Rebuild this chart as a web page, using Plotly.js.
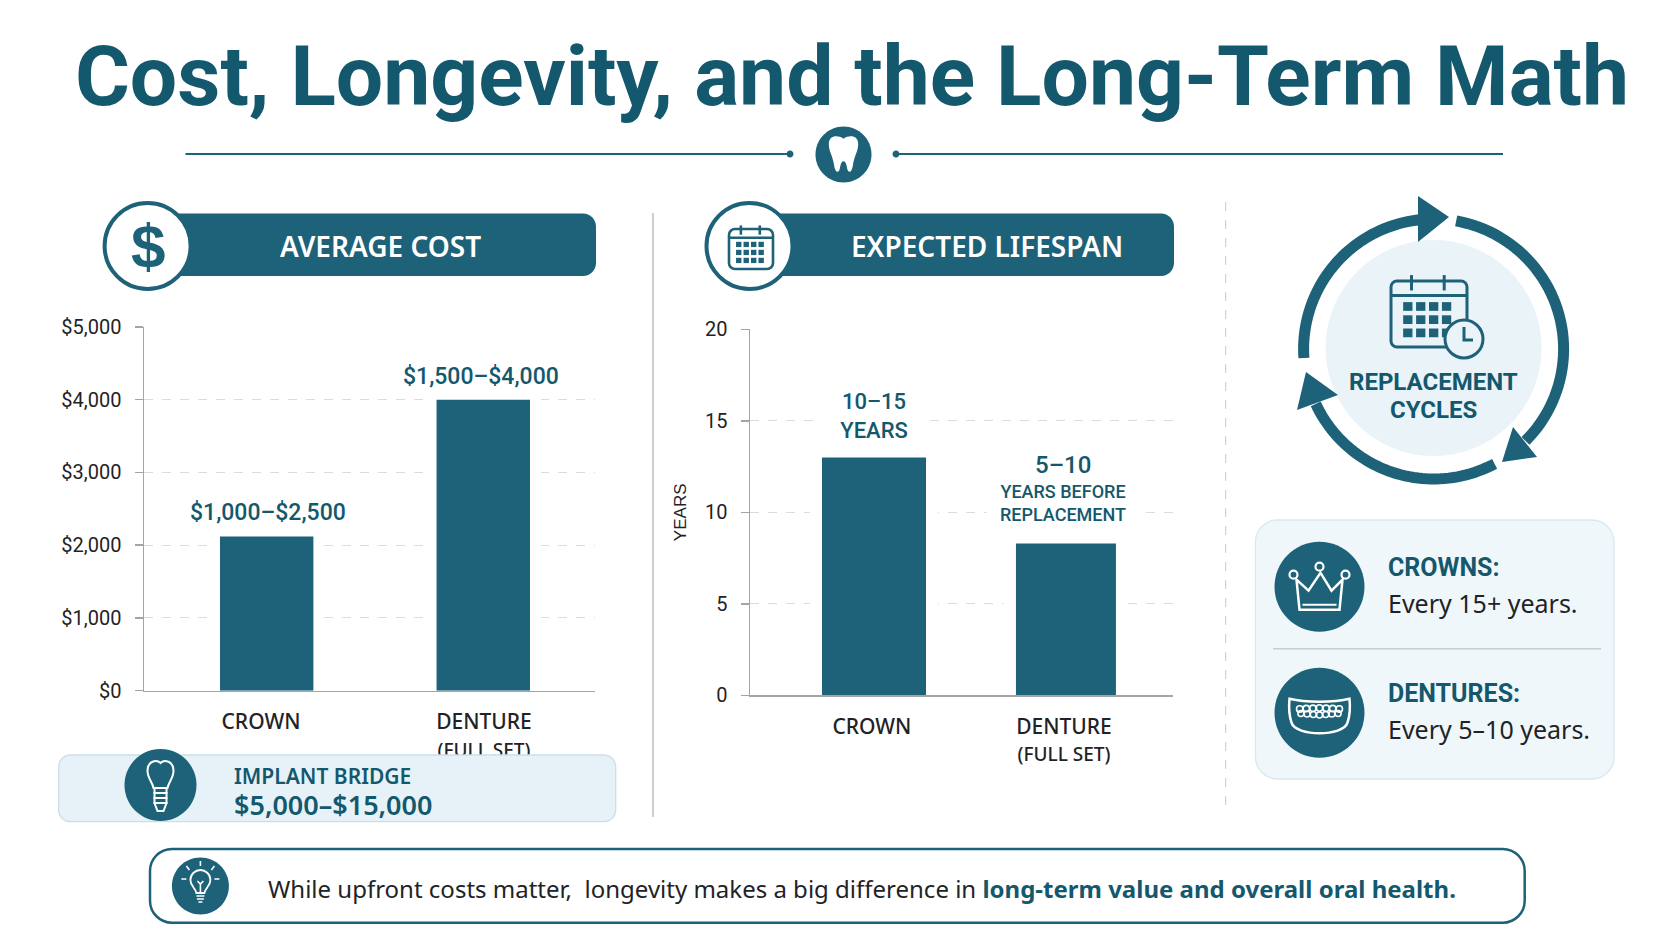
<!DOCTYPE html>
<html><head><meta charset="utf-8">
<script src="https://cdn.plot.ly/plotly-3.0.1.min.js"></script>
<style>html,body{margin:0;padding:0;background:#fff}#c{width:1672px;height:941px}</style>
</head><body><div id="c"></div>
<script>
// ---- chart data ----
const categories = ["CROWN", "DENTURE<br><span style=\"font-size:19px\">(FULL SET)</span>"];
const costValues = [2120, 4000];
const costLabels = ["$1,000–$2,500", "$1,500–$4,000"];
const costTickVals = [0, 1000, 2000, 3000, 4000, 5000];
const costTickText = ["$0", "$1,000", "$2,000", "$3,000", "$4,000", "$5,000"];
const lifeValues = [13, 8.3];
const lifeTickVals = [0, 5, 10, 15, 20];
const titleText = "Cost, Longevity, and the Long-Term Math";

// ---- style + helpers ----
const W = 1672, H = 941;
const TEAL = "#1d6278", DARK = "#14586d", INK = "#1f2326";
const TITLEFONT = "'Liberation Sans Narrow','Roboto',sans-serif";
const BODY = "'Noto Sans','Open Sans',sans-serif";
const shapes = [], notes = [];
function P(d, ox = 0, oy = 0, s = 1) {
  let i = 0;
  return d.replace(/-?\d+(\.\d+)?/g, m => {
    const v = parseFloat(m);
    const r = (i++ % 2 === 0) ? (ox + v * s) / W : 1 - (oy + v * s) / H;
    return r.toFixed(6);
  });
}
function path(d, o = {}, ox = 0, oy = 0, s = 1) {
  shapes.push({ type: "path", xref: "paper", yref: "paper", path: P(d, ox, oy, s),
    fillcolor: o.fill || "rgba(0,0,0,0)",
    line: { color: o.stroke || "rgba(0,0,0,0)", width: o.w === undefined ? 0 : o.w, dash: o.dash || "solid" } });
}
function circleD(cx, cy, r) {
  const k = 0.5523 * r;
  return `M ${cx - r} ${cy} C ${cx - r} ${cy - k} ${cx - k} ${cy - r} ${cx} ${cy - r} C ${cx + k} ${cy - r} ${cx + r} ${cy - k} ${cx + r} ${cy} C ${cx + r} ${cy + k} ${cx + k} ${cy + r} ${cx} ${cy + r} C ${cx - k} ${cy + r} ${cx - r} ${cy + k} ${cx - r} ${cy} Z`;
}
function circle(cx, cy, r, o) { path(circleD(cx, cy, r), o); }
function rrD(x0, y0, x1, y1, r) {
  const k = 0.4477 * r;
  return `M ${x0 + r} ${y0} L ${x1 - r} ${y0} C ${x1 - k} ${y0} ${x1} ${y0 + k} ${x1} ${y0 + r} L ${x1} ${y1 - r} C ${x1} ${y1 - k} ${x1 - k} ${y1} ${x1 - r} ${y1} L ${x0 + r} ${y1} C ${x0 + k} ${y1} ${x0} ${y1 - k} ${x0} ${y1 - r} L ${x0} ${y0 + r} C ${x0} ${y0 + k} ${x0 + k} ${y0} ${x0 + r} ${y0} Z`;
}
function rr(x0, y0, x1, y1, r, o) { path(rrD(x0, y0, x1, y1, r), o); }
function line(x0, y0, x1, y1, color, w, dash) { path(`M ${x0} ${y0} L ${x1} ${y1}`, { stroke: color, w, dash }); }
function note(text, x, y, size, color, o = {}) {
  notes.push(Object.assign({ text, xref: "paper", yref: "paper", x: x / W, y: 1 - y / H,
    xanchor: "center", yanchor: "middle", showarrow: false, align: "center",
    font: { family: o.family || BODY, size, color, weight: o.weight || 400 } }, o.extra || {}));
}
function arc(cx, cy, r, a0, a1, o) {
  let d = "";
  for (let i = 0; i <= 48; i++) {
    const a = (a0 + (a1 - a0) * i / 48) * Math.PI / 180;
    d += `${i ? "L" : "M"} ${(cx + r * Math.sin(a)).toFixed(2)} ${(cy - r * Math.cos(a)).toFixed(2)} `;
  }
  path(d, o);
}
function calendar(x0, y0, x1, y1, w, rows, cols) {
  rr(x0, y0, x1, y1, 6, { stroke: TEAL, w, fill: "#ffffff00" });
  const hh = (y1 - y0) * 0.22;
  line(x0, y0 + hh, x1, y0 + hh, TEAL, w);
  const ww = x1 - x0;
  [0.27, 0.7].forEach(f => line(x0 + ww * f, y0 - (y1 - y0) * 0.09, x0 + ww * f, y0 + hh * 0.65, TEAL, w));
  const gx = ww * 0.16, gw = (ww - 2 * gx) / cols, top = y0 + hh + (y1 - y0) * 0.1, gh = (y1 - top - (y1 - y0) * 0.08) / rows;
  for (let r = 0; r < rows; r++) for (let c = 0; c < cols; c++)
    path(`M ${x0 + gx + c * gw} ${top + r * gh} L ${x0 + gx + c * gw + gw * 0.72} ${top + r * gh} L ${x0 + gx + c * gw + gw * 0.72} ${top + r * gh + gh * 0.66} L ${x0 + gx + c * gw} ${top + r * gh + gh * 0.66} Z`, { fill: TEAL });
}

// ---- header ----
line(185.5, 154, 789, 154, TEAL, 2);
line(896, 154, 1503, 154, TEAL, 2);
circle(790, 154, 3.5, { fill: TEAL });
circle(896, 154, 3.5, { fill: TEAL });
circle(843.5, 154.5, 28, { fill: TEAL });
path("M -14 -10 C -14 -18 -6 -19 0 -15 C 6 -19 14 -18 14 -10 C 14 -3 10 2 9 10 C 8 18 4 19 3 11 C 2 5 -2 5 -3 11 C -4 19 -8 18 -9 10 C -10 2 -14 -3 -14 -10 Z", { fill: "#fff" }, 843.5, 154.5, 1.05);

// ---- section pills ----
rr(150, 213.5, 596, 276, 13, { fill: TEAL });
circle(147.6, 246, 43, { fill: "#fff", stroke: TEAL, w: 4 });
note("$", 148, 246, 62, TEAL, { weight: 700, family: "'Liberation Sans',sans-serif" });
note("AVERAGE COST", 380.6, 246, 28, "#fff", { weight: 600 });
rr(750, 213.5, 1174, 276, 13, { fill: TEAL });
circle(749.5, 246, 43, { fill: "#fff", stroke: TEAL, w: 4 });
calendar(729, 229, 773, 269, 2.6, 3, 4);
note("EXPECTED LIFESPAN", 987, 246, 28, "#fff", { weight: 600 });

// ---- vertical dividers ----
line(653, 213, 653, 817, "#bdbdbd", 1.5);
line(1225.7, 202, 1225.7, 814, "#c9c9c9", 1, "dash");

// ---- implant box ----
rr(58.6, 755, 615.7, 821.7, 12, { fill: "#e6f2f8", stroke: "#c9e0ea", w: 1.3 });
circle(160.5, 785, 36, { fill: TEAL });
path("M -13 -14 C -13 -24 -4 -26 0 -22 C 4 -26 13 -24 13 -14 C 13 -7 8 -3 7 3 L -7 3 C -8 -3 -13 -7 -13 -14 Z", { stroke: "#fff", w: 2 }, 160.5, 785);
path("M -6 3 L 6 3 L 6 18 L 3 26 L -3 26 L -6 18 Z", { stroke: "#fff", w: 2 }, 160.5, 785);
[8, 13, 18].forEach(d => line(153.5, 785 + d, 167.5, 785 + d, "#fff", 2));
note("IMPLANT BRIDGE", 232.4, 776, 21, DARK, { weight: 600, extra: { xanchor: "left" } });
note("$5,000–$15,000", 232.4, 804, 27, DARK, { weight: 600, extra: { xanchor: "left" } });

// ---- cycle ring ----
circle(1433.6, 348, 108, { fill: "#e9f3f8" });
const CX = 1433.6, CY = 349, R = 130;
arc(CX, CY, R, -94, -6, { stroke: TEAL, w: 11 });
arc(CX, CY, R, 10, 135, { stroke: TEAL, w: 11 });
arc(CX, CY, R, 152, 245, { stroke: TEAL, w: 11 });
path("M 1418 196 L 1449 217 L 1418 242 Z", { fill: TEAL });
path("M 1513 427 L 1537 457 L 1502 462 Z", { fill: TEAL });
path("M 1306 372 L 1297 410 L 1338 395 Z", { fill: TEAL });
calendar(1391, 281, 1467, 347, 3, 3, 4);
circle(1464, 339, 19, { fill: "#e9f3f8", stroke: TEAL, w: 3 });
path("M 1464 327 L 1464 340 L 1473 340", { stroke: TEAL, w: 3 });
note("REPLACEMENT", 1433.6, 382, 24, DARK, { weight: 700, family: "'Roboto',sans-serif" });
note("CYCLES", 1433.6, 410, 24, DARK, { weight: 700, family: "'Roboto',sans-serif" });

// ---- replacement card ----
rr(1255.5, 520, 1614, 779, 22, { fill: "#f0f7fb", stroke: "#d9e8f0", w: 1.3 });
line(1273, 648.7, 1601, 648.7, "#c6ced2", 1.5);
circle(1319.5, 586.7, 45, { fill: TEAL });
circle(1319.5, 712.7, 45, { fill: TEAL });
path("M -20 23 L 20 23 L 23 -7 L 12 4 L 1 -14 L -11 4 L -23 -7 Z", { stroke: "#fff", w: 2.5 }, 1319.5, 586.7);
path("M -17 18 L 17 18", { stroke: "#fff", w: 2 }, 1319.5, 586.7);
[[-26, -12], [0, -20], [26, -12]].forEach(c => circle(1319.5 + c[0], 586.7 + c[1], 4, { fill: TEAL, stroke: "#fff", w: 2.2 }));
path("M -30 -14 C -14 -10 14 -10 30 -14 C 31 -4 30 4 28 10 C 24 24 -24 24 -28 10 C -30 4 -31 -4 -30 -14 Z", { stroke: "#fff", w: 2.5 }, 1319.5, 712.7);
path("M -24 -9 C -10 -6 10 -6 24 -9 L 23 5 C 14 17 -14 17 -23 5 Z", { fill: TEAL }, 1319.5, 712.7);
for (let i = -3; i <= 3; i++) {
  circle(1319.5 + i * 6.6, 708 + Math.abs(i) * 0.3, 3.2, { stroke: "#fff", w: 1.6 });
  circle(1319.5 + i * 6.2, 715 - Math.abs(i) * 0.5, 3, { stroke: "#fff", w: 1.6 });
}
note("CROWNS:", 1386, 567, 25, DARK, { weight: 700, family: "'Roboto',sans-serif", extra: { xanchor: "left" } });
note("Every 15+ years.", 1386, 603, 25, INK, { extra: { xanchor: "left" } });
note("DENTURES:", 1386, 693, 25, DARK, { weight: 700, family: "'Roboto',sans-serif", extra: { xanchor: "left" } });
note("Every 5–10 years.", 1386, 729, 25, INK, { extra: { xanchor: "left" } });

// ---- bottom callout ----
rr(150, 849, 1524.7, 922.7, 22, { fill: "#fff", stroke: TEAL, w: 2.5 });
circle(200.4, 886, 28.5, { fill: TEAL });
path("M -4 7 C -5 2 -10 0 -10 -6 C -10 -12 -5 -16 0 -16 C 5 -16 10 -12 10 -6 C 10 0 5 2 4 7 Z", { stroke: "#fff", w: 1.8 }, 200.4, 886);
path("M -4 10 L 4 10 M -3.5 13 L 3.5 13 M -2 16 L 2 16 M 0 7 L 0 -3 M -3 -5 L 0 -2 L 3 -5", { stroke: "#fff", w: 1.6 }, 200.4, 886);
path("M 0 -25 L 0 -20 M -14 -20 L -11 -16 M 14 -20 L 11 -16 M -19 -7 L -14 -7 M 19 -7 L 14 -7", { stroke: "#fff", w: 1.6 }, 200.4, 886);
note("While upfront costs matter,  longevity makes a big difference in <b style=\"color:" + DARK + "\">long-term value and overall oral health.</b>", 266, 888, 24, INK, { extra: { xanchor: "left" } });

// ---- value labels over the bars (data-anchored) ----
function barNote(text, xref, yref, x, y, yshift, size, o = {}) {
  notes.push(Object.assign({ text, xref, yref, x, y, yshift, xshift: o.xshift || 0, xanchor: "center", yanchor: "middle",
    showarrow: false, align: "center", bgcolor: o.bg || "rgba(0,0,0,0)", width: o.width, 
    font: { family: "'Roboto',sans-serif", size, color: DARK, weight: o.weight || 500 } }));
}
barNote(costLabels[0], "x", "y", categories[0], costValues[0], 24, 23, { xshift: 7 });
barNote(costLabels[1], "x", "y", categories[1], costValues[1], 23, 23, { xshift: -3 });
barNote("10–15<br>YEARS", "x2", "y2", categories[0], lifeValues[0], 41, 22, { bg: "#fff", width: 104, xshift: 2 });
barNote("YEARS BEFORE<br>REPLACEMENT", "x2", "y2", categories[1], lifeValues[1], 40, 18, { bg: "#fff", width: 150, xshift: -1 });
barNote("5–10", "x2", "y2", categories[1], lifeValues[1], 78, 24, { xshift: -1 });

// ---- traces ----
function barPair(xa, ya, vals, offs, wid, pad) {
  return [
    { type: "bar", x: categories, y: vals, xaxis: xa, yaxis: ya, width: wid.map(w => w + 2 * pad), offset: offs.map(o => o - pad),
      marker: { color: "#fff", line: { color: "#fff", width: 3 } }, hoverinfo: "skip", showlegend: false },
    { type: "bar", x: categories, y: vals, xaxis: xa, yaxis: ya, width: wid, offset: offs,
      marker: { color: TEAL, line: { width: 0 } }, showlegend: false }
  ];
}
const traces = [
  ...barPair("x", "y", costValues, [-0.184, -0.2126], [0.419, 0.419], 0.043),
  ...barPair("x2", "y2", lifeValues, [-0.26, -0.25], [0.5417, 0.5208], 0.055)
];

const gridStyle = { showgrid: true, griddash: "dash", gridcolor: "#dcdcdc", gridwidth: 1, zeroline: false,
  showline: true, linecolor: "#a4a4a4", linewidth: 1.5, ticks: "outside", ticklen: 8, tickcolor: "#a4a4a4", tickwidth: 1.5,
  tickfont: { family: "'Roboto',sans-serif", size: 20, color: INK }, ticklabelstandoff: 9 };
const catStyle = { type: "category", showgrid: false, zeroline: false, showline: true, linecolor: "#a4a4a4", linewidth: 1.5,
  ticks: "", tickangle: 0, ticklabelstandoff: 12, tickfont: { family: BODY, size: 21, color: INK, weight: 500 } };

const layout = {
  width: W, height: H, margin: { l: 0, r: 0, t: 0, b: 0 }, autosize: false,
  paper_bgcolor: "#fff", plot_bgcolor: "rgba(0,0,0,0)", barmode: "overlay", showlegend: false,
  title: { text: titleText, x: 852 / W, xanchor: "center", y: 1 - 76 / H, yanchor: "middle", yref: "paper", xref: "paper",
    font: { family: TITLEFONT, size: 84, color: DARK, weight: 700 } },
  xaxis: Object.assign({}, catStyle, { domain: [144 / W, 595 / W], range: [-0.5247, 1.498], anchor: "y" }),
  yaxis: Object.assign({}, gridStyle, { domain: [(H - 690.7) / H, (H - 327) / H], range: [0, 5000], tickvals: costTickVals, ticktext: costTickText, anchor: "x" }),
  xaxis2: Object.assign({}, catStyle, { domain: [750 / W, 1173.4 / W], range: [-0.635, 1.57], anchor: "y2" }),
  yaxis2: Object.assign({}, gridStyle, { domain: [(H - 695.3) / H, (H - 329.3) / H], range: [0, 20], tickvals: lifeTickVals, anchor: "x2",
    title: { text: "YEARS", standoff: 14, font: { family: "'Liberation Sans',sans-serif", size: 17, color: INK } } }),
  shapes, annotations: notes
};
Plotly.newPlot("c", traces, layout, { displayModeBar: false, staticPlot: true });
</script></body></html>
